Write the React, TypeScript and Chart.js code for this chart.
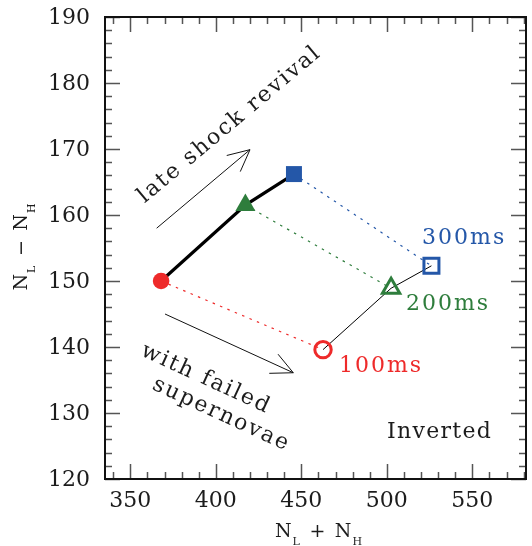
import React, { useEffect, useRef } from 'react';
import { Chart, registerables } from 'chart.js';

Chart.register(...registerables);

const RED = '#ee2a2a';
const GREEN = '#2e7d3c';
const BLUE = '#2457a8';
const INK = '#1c1c1c';
const FONT = '"DejaVu Serif", serif';

// filled markers (early times, thick line) and open markers (late times, thin line)
const earlyX = [368.0, 417.3, 445.7];
const earlyY = [150.0, 161.5, 166.2];
const lateX = [462.7, 502.5, 526.1];
const lateY = [139.6, 148.9, 152.3];
const timeLabels = ['100ms', '200ms', '300ms'];
const timeLabelX = [472.0, 511.2, 520.6];
const timeLabelY = [137.1, 146.4, 156.5];

const xTickValues = [350, 400, 450, 500, 550];
const yTickValues = [120, 130, 140, 150, 160, 170, 180, 190];
const X_MIN = 335.2;
const X_MAX = 581.4;
const Y_MIN = 120;
const Y_MAX = 190;
const X_MINOR = 10;
const Y_MINOR = 2;

// arrows in data coordinates: [x0, y0, x1, y1]
const upperArrow = [365.4, 158.0, 420.0, 169.9];
const lowerArrow = [370.3, 145.0, 445.3, 136.1];

const COLORS = [RED, GREEN, BLUE];

function drawRotText(ctx: CanvasRenderingContext2D, text: string, x: number, y: number, deg: number, font: string, color: string, align: CanvasTextAlign, spacing: number) {
  ctx.save();
  ctx.translate(x, y);
  ctx.rotate((deg * Math.PI) / 180);
  ctx.font = font;
  ctx.fillStyle = color;
  ctx.textAlign = align;
  ctx.textBaseline = 'middle';
  (ctx as any).letterSpacing = spacing + 'px';
  ctx.fillText(text, align === 'center' ? spacing / 2 : 0, 0);
  ctx.restore();
}

type Part = { t: string; sub?: boolean };

function drawSubTitle(ctx: CanvasRenderingContext2D, parts: Part[], cx: number, cy: number, deg: number) {
  const big = `19px ${FONT}`;
  const small = `11px ${FONT}`;
  ctx.save();
  ctx.translate(cx, cy);
  ctx.rotate((deg * Math.PI) / 180);
  ctx.fillStyle = INK;
  ctx.textBaseline = 'alphabetic';
  ctx.textAlign = 'left';
  let total = 0;
  const widths = parts.map((p) => {
    ctx.font = p.sub ? small : big;
    const w = ctx.measureText(p.t).width + (p.sub ? 1 : 0);
    total += w;
    return w;
  });
  let x = -total / 2;
  parts.forEach((p, i) => {
    ctx.font = p.sub ? small : big;
    ctx.fillText(p.t, x + (p.sub ? 1 : 0), p.sub ? 8 : 0);
    x += widths[i];
  });
  ctx.restore();
}

function drawArrow(ctx: CanvasRenderingContext2D, x0: number, y0: number, x1: number, y1: number) {
  const ang = Math.atan2(y1 - y0, x1 - x0);
  const len = 24;
  const spread = (26 * Math.PI) / 180;
  ctx.beginPath();
  ctx.moveTo(x0, y0);
  ctx.lineTo(x1, y1);
  ctx.moveTo(x1 - len * Math.cos(ang - spread), y1 - len * Math.sin(ang - spread));
  ctx.lineTo(x1, y1);
  ctx.lineTo(x1 - len * Math.cos(ang + spread), y1 - len * Math.sin(ang + spread));
  ctx.stroke();
}

const overlayPlugin = {
  id: 'overlay',
  afterDraw(chart: any) {
    const { ctx, chartArea: a, scales } = chart;
    const xs = scales.x;
    const ys = scales.y;
    ctx.save();

    // ticks on all four sides, pointing inward
    ctx.strokeStyle = '#555555';
    ctx.lineWidth = 1.5;
    ctx.beginPath();
    for (let v = Math.ceil(X_MIN / X_MINOR) * X_MINOR; v <= X_MAX; v += X_MINOR) {
      const px = Math.round(xs.getPixelForValue(v)) + 0.5;
      const len = v % 50 === 0 ? 15 : 7;
      ctx.moveTo(px, a.bottom);
      ctx.lineTo(px, a.bottom - len);
      ctx.moveTo(px, a.top);
      ctx.lineTo(px, a.top + len);
    }
    for (let v = Y_MIN; v <= Y_MAX; v += Y_MINOR) {
      const py = Math.round(ys.getPixelForValue(v)) + 0.5;
      const len = v % 10 === 0 ? 15 : 7;
      ctx.moveTo(a.left, py);
      ctx.lineTo(a.left + len, py);
      ctx.moveTo(a.right, py);
      ctx.lineTo(a.right - len, py);
    }
    ctx.stroke();

    // frame
    ctx.strokeStyle = '#111';
    ctx.lineWidth = 2;
    ctx.strokeRect(a.left, a.top, a.right - a.left, a.bottom - a.top);

    // tick labels
    ctx.fillStyle = INK;
    ctx.font = `22px ${FONT}`;
    ctx.textBaseline = 'middle';
    ctx.textAlign = 'center';
    xTickValues.forEach((v) => ctx.fillText(String(v), xs.getPixelForValue(v), a.bottom + 22));
    ctx.textAlign = 'right';
    yTickValues.forEach((v) => ctx.fillText(String(v), a.left - 15, ys.getPixelForValue(v) + 1));

    // arrows
    ctx.strokeStyle = '#111';
    ctx.lineWidth = 1;
    [upperArrow, lowerArrow].forEach((ar) => {
      drawArrow(ctx, xs.getPixelForValue(ar[0]), ys.getPixelForValue(ar[1]), xs.getPixelForValue(ar[2]), ys.getPixelForValue(ar[3]));
    });

    const annFont = `22px ${FONT}`;
    drawRotText(ctx, 'late shock revival', xs.getPixelForValue(407.7), ys.getPixelForValue(173.6), -40, annFont, INK, 'center', 2);
    drawRotText(ctx, 'with failed', xs.getPixelForValue(393.7), ys.getPixelForValue(135.2), 24.7, annFont, INK, 'center', 2);
    drawRotText(ctx, 'supernovae', xs.getPixelForValue(402.7), ys.getPixelForValue(129.8), 24.7, annFont, INK, 'center', 2);
    drawRotText(ctx, 'Inverted', xs.getPixelForValue(500.1), ys.getPixelForValue(127.1), 0, annFont, INK, 'left', 1.3);

    timeLabels.forEach((t, i) => {
      drawRotText(ctx, t, xs.getPixelForValue(timeLabelX[i]), ys.getPixelForValue(timeLabelY[i]), 0, annFont, COLORS[i], 'left', 2);
    });

    // axis titles with subscripts
    const cxArea = (a.left + a.right) / 2;
    const cyArea = (a.top + a.bottom) / 2;
    drawSubTitle(ctx, [{ t: 'N' }, { t: 'L', sub: true }, { t: '\u2002+\u2002' }, { t: 'N' }, { t: 'H', sub: true }], cxArea + 3, 537, 0);
    drawSubTitle(ctx, [{ t: 'N' }, { t: 'L', sub: true }, { t: '\u2002\u2212\u2002' }, { t: 'N' }, { t: 'H', sub: true }], 27, cyArea - 1, -90);

    ctx.restore();
  },
};

export default function App() {
  const ref = useRef<HTMLCanvasElement | null>(null);

  useEffect(() => {
    if (!ref.current) return;
    const early = earlyX.map((x, i) => ({ x, y: earlyY[i] }));
    const late = lateX.map((x, i) => ({ x, y: lateY[i] }));
    const links = COLORS.map((c, i) => ({
      type: 'scatter' as const,
      data: [early[i], late[i]],
      showLine: true,
      borderColor: c,
      borderWidth: 1.2,
      borderDash: [2.5, 5.5],
      pointRadius: 0,
      pointHoverRadius: 0,
    }));

    const chart = new Chart(ref.current, {
      type: 'scatter',
      data: {
        datasets: [
          {
            data: early,
            showLine: true,
            borderColor: '#000',
            borderWidth: 3.2,
            pointStyle: ['circle', 'triangle', 'rect'] as any,
            pointRadius: [8.3, 11.6, 11.3],
            pointHoverRadius: [8.3, 11.6, 11.3],
            pointBackgroundColor: COLORS,
            pointBorderColor: COLORS,
            pointBorderWidth: 0,
          },
          {
            data: late,
            showLine: true,
            borderColor: '#000',
            borderWidth: 1,
            pointStyle: ['circle', 'triangle', 'rect'] as any,
            pointRadius: [8.2, 10, 10.6],
            pointHoverRadius: [8.2, 10, 10.6],
            pointBackgroundColor: 'rgba(0,0,0,0)',
            pointBorderColor: COLORS,
            pointBorderWidth: 3,
          },
          ...links,
        ] as any,
      },
      options: {
        animation: false,
        responsive: false,
        events: [],
        layout: { autoPadding: false, padding: { top: 17, right: 6, left: 0, bottom: 0 } },
        plugins: { legend: { display: false }, tooltip: { enabled: false } },
        scales: {
          x: {
            type: 'linear',
            min: X_MIN,
            max: X_MAX,
            grid: { display: false },
            border: { display: false },
            ticks: { display: false },
            afterFit: (s: any) => {
              s.height = 67;
            },
          },
          y: {
            type: 'linear',
            min: Y_MIN,
            max: Y_MAX,
            grid: { display: false },
            border: { display: false },
            ticks: { display: false },
            afterFit: (s: any) => {
              s.width = 105;
            },
          },
        },
      },
      plugins: [overlayPlugin],
    });
    return () => chart.destroy();
  }, []);

  return (
    <div style={{ position: 'fixed', left: 0, top: 0, width: 532, height: 546, background: '#fff' }}>
      <canvas ref={ref} width={532} height={546} />
    </div>
  );
}
